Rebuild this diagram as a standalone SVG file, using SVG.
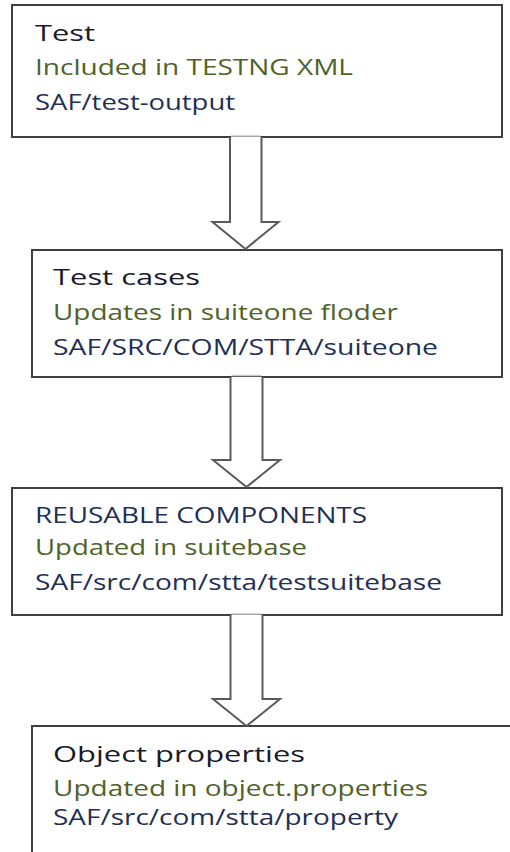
<svg xmlns="http://www.w3.org/2000/svg" width="510" height="852" viewBox="0 0 510 852">
  <defs>
    <style>
      .box { fill: #ffffff; stroke: #3f3f3f; stroke-width: 2; }
      .arrow-fill { fill: #ffffff; stroke: none; }
      .arrow-edge { fill: none; stroke: #5a5a5a; stroke-width: 2; stroke-linejoin: miter; }
      .arrow-top { stroke: #c8c8c8; stroke-width: 1.5; }
      text { font-family: "Open Sans", "Noto Sans", "DejaVu Sans", sans-serif; font-size: 22px; }
      .title { fill: #1a1a2a; }
      .note { fill: #4f6228; }
      .path { fill: #1f2f55; }
      .navy { fill: #1f2f55; }
    </style>
  </defs>

  <rect width="510" height="852" fill="#ffffff"/>

  <!-- nodes -->
  <g id="node-test">
    <rect class="box" x="12" y="5" width="490" height="132"/>
    <text class="title" x="35" y="41" textLength="60" lengthAdjust="spacingAndGlyphs">Test</text>
    <text class="note" x="35" y="75" textLength="318" lengthAdjust="spacingAndGlyphs">Included in TESTNG XML</text>
    <text class="path" x="35" y="110" textLength="200" lengthAdjust="spacingAndGlyphs">SAF/test-output</text>
  </g>

  <g id="node-test-cases">
    <rect class="box" x="32" y="250" width="470" height="127"/>
    <text class="title" x="53" y="285" textLength="147" lengthAdjust="spacingAndGlyphs">Test cases</text>
    <text class="note" x="53" y="320" textLength="345" lengthAdjust="spacingAndGlyphs">Updates in suiteone floder</text>
    <text class="path" x="53" y="355" textLength="385" lengthAdjust="spacingAndGlyphs">SAF/SRC/COM/STTA/suiteone</text>
  </g>

  <g id="node-reusable">
    <rect class="box" x="12" y="488" width="490" height="127"/>
    <text class="navy" x="35" y="523" textLength="332" lengthAdjust="spacingAndGlyphs">REUSABLE COMPONENTS</text>
    <text class="note" x="35" y="555" textLength="272" lengthAdjust="spacingAndGlyphs">Updated in suitebase</text>
    <text class="path" x="35" y="590" textLength="407" lengthAdjust="spacingAndGlyphs">SAF/src/com/stta/testsuitebase</text>
  </g>

  <g id="node-object-properties">
    <rect class="box" x="32" y="726" width="500" height="160"/>
    <text class="title" x="53" y="762" textLength="252" lengthAdjust="spacingAndGlyphs">Object properties</text>
    <text class="note" x="53" y="796" textLength="375" lengthAdjust="spacingAndGlyphs">Updated in object.properties</text>
    <text class="path" x="53" y="825" textLength="345" lengthAdjust="spacingAndGlyphs">SAF/src/com/stta/property</text>
  </g>

  <!-- connectors: hollow block arrows -->
  <g id="connectors">
    <g id="arrow-1">
      <polygon class="arrow-fill" points="230,137 261.5,137 261.5,222 278.5,222 245.5,249 212.5,222 230,222"/>
      <polyline class="arrow-edge" points="230,137 230,222 212.5,222 245.5,249 278.5,222 261.5,222 261.5,137"/>
      <line class="arrow-top" x1="231" y1="136" x2="260.5" y2="136"/>
    </g>
    <g id="arrow-2">
      <polygon class="arrow-fill" points="230.5,377 262.5,377 262.5,460 280,460 246.5,487 213,460 230.5,460"/>
      <polyline class="arrow-edge" points="230.5,377 230.5,460 213,460 246.5,487 280,460 262.5,460 262.5,377"/>
      <line class="arrow-top" x1="231.5" y1="375.5" x2="261.5" y2="375.5"/>
    </g>
    <g id="arrow-3">
      <polygon class="arrow-fill" points="230.5,615 262.5,615 262.5,699 280,699 246.5,726 213,699 230.5,699"/>
      <polyline class="arrow-edge" points="230.5,615 230.5,699 213,699 246.5,726 280,699 262.5,699 262.5,615"/>
      <line class="arrow-top" x1="231.5" y1="614" x2="261.5" y2="614"/>
    </g>
  </g>
</svg>
